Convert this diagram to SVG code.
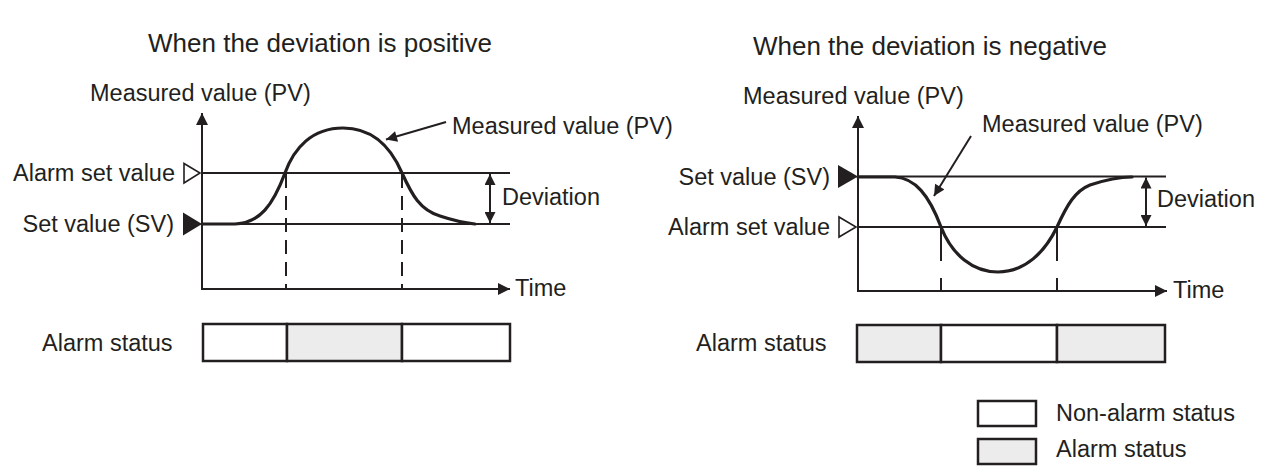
<svg xmlns="http://www.w3.org/2000/svg" width="1266" height="467" viewBox="0 0 1266 467">
<defs>
<marker id="ah" viewBox="0 0 10 10" refX="10" refY="5" markerWidth="14" markerHeight="12" markerUnits="userSpaceOnUse" orient="auto-start-reverse"><path d="M0,0 L10,5 L0,10 z" fill="#231f20"/></marker>
<marker id="ahs" viewBox="0 0 10 10" refX="10" refY="5" markerWidth="15" markerHeight="11" markerUnits="userSpaceOnUse" orient="auto-start-reverse"><path d="M0,0 L10,5 L0,10 z" fill="#231f20"/></marker>
</defs>
<style>
text{font-family:"Liberation Sans",Arial,sans-serif;font-size:23.5px;fill:#231f20}
.title{font-size:26px}
.ax{stroke:#231f20;stroke-width:2;fill:none}
.ln{stroke:#231f20;stroke-width:2;fill:none}
.dash{stroke:#231f20;stroke-width:2;fill:none;stroke-dasharray:14 8}
.dash2{stroke:#231f20;stroke-width:2;fill:none;stroke-dasharray:33 17}
.curve{stroke:#231f20;stroke-width:3.2;fill:none;stroke-linecap:round}
.box{stroke:#231f20;stroke-width:2.5}
.on{fill:#ececec}
.off{fill:#ffffff}
.ptr{stroke:#231f20;stroke-width:2;fill:none}
</style>
<rect width="1266" height="467" fill="#fff"/>

<g id="title-positive"><text class="title" x="320" y="52" text-anchor="middle">When the deviation is positive</text></g>
<g id="title-negative"><text class="title" x="930" y="55" text-anchor="middle">When the deviation is negative</text></g>

<!-- LEFT CHART -->
<g id="left-axes">
<text x="90" y="101">Measured value (PV)</text>
<line class="ax" x1="202" y1="290" x2="202" y2="113" marker-end="url(#ah)"/>
<line class="ax" x1="201" y1="289" x2="510" y2="289" marker-end="url(#ah)"/>
<text x="515" y="296">Time</text>
</g>
<g id="left-alarm-set">
<text x="175" y="181" text-anchor="end">Alarm set value</text>
<polygon points="184,163.5 184,183 200,173" fill="#fff" stroke="#231f20" stroke-width="1.6"/>
<line class="ln" x1="202" y1="173" x2="510" y2="173"/>
</g>
<g id="left-sv">
<text x="174" y="232" text-anchor="end">Set value (SV)</text>
<polygon points="183,212.5 183,235.5 202,224" fill="#231f20"/>
<line class="ln" x1="202" y1="224" x2="510" y2="224"/>
</g>
<g id="left-pv">
<path class="curve" d="M202,224 L235,224 C260,223 273,205 285,173 C294,148 312,128 343,128 C372,128 390,145 402,173 C412,195 420,210 440,216 C455,221 465,223 475,224"/>
<text x="452" y="134">Measured value (PV)</text>
</g>
<g id="left-deviation">
<text x="502" y="205">Deviation</text>
</g>
<g id="left-status">
<text x="42" y="351">Alarm status</text>
<rect class="box off" x="203" y="324" width="84" height="37"/>
<rect class="box on" x="287" y="324" width="115" height="37"/>
<rect class="box off" x="402" y="324" width="108" height="37"/>
</g>

<!-- RIGHT CHART -->
<g id="right-axes">
<text x="743" y="104">Measured value (PV)</text>
<line class="ax" x1="858" y1="292" x2="858" y2="116" marker-end="url(#ah)"/>
<line class="ax" x1="857" y1="291" x2="1167" y2="291" marker-end="url(#ah)"/>
<text x="1173" y="298">Time</text>
</g>
<g id="right-sv">
<text x="830" y="185" text-anchor="end">Set value (SV)</text>
<polygon points="838,165 838,188 858,176.5" fill="#231f20"/>
<line class="ln" x1="858" y1="176.5" x2="1166" y2="176.5"/>
</g>
<g id="right-alarm-set">
<text x="830" y="235" text-anchor="end">Alarm set value</text>
<polygon points="839,217 839,237 856,227" fill="#fff" stroke="#231f20" stroke-width="1.6"/>
<line class="ln" x1="858" y1="227" x2="1166" y2="227"/>
</g>
<g id="right-pv">
<path class="curve" d="M858,177 L895,177 C915,178 929,195 941,227 C952,255 973,272 998,272 C1025,272 1045,252 1057,227 C1067,205 1075,191 1090,185 C1105,180 1120,177 1132,177"/>
<text x="982" y="132">Measured value (PV)</text>
</g>
<g id="right-deviation">
<text x="1157" y="207">Deviation</text>
</g>
<g id="right-status">
<text x="696" y="351">Alarm status</text>
<rect class="box on" x="857" y="325" width="84" height="37"/>
<rect class="box off" x="941" y="325" width="116" height="37"/>
<rect class="box on" x="1057" y="325" width="108" height="37"/>
</g>

<g id="legend-nonalarm">
<rect class="box off" x="978" y="401" width="58" height="25"/>
<text x="1056" y="421">Non-alarm status</text>
</g>
<g id="legend-alarm">
<rect class="box on" x="978" y="439" width="58" height="25"/>
<text x="1056" y="457">Alarm status</text>
</g>

<g id="connectors">
<line class="dash" x1="286" y1="174" x2="286" y2="289"/>
<line class="dash" x1="402" y1="174" x2="402" y2="289"/>
<line class="dash2" x1="941" y1="228" x2="941" y2="291"/>
<line class="dash2" x1="1057" y1="228" x2="1057" y2="291"/>
<line class="ptr" x1="446" y1="122" x2="386" y2="139.5" marker-end="url(#ahs)"/>
<line class="ptr" x1="971" y1="136" x2="934" y2="196" marker-end="url(#ahs)"/>
<line class="ptr" x1="490" y1="174" x2="490" y2="223" marker-start="url(#ahs)" marker-end="url(#ahs)"/>
<line class="ptr" x1="1146" y1="177.5" x2="1146" y2="226" marker-start="url(#ahs)" marker-end="url(#ahs)"/>
</g>
</svg>
